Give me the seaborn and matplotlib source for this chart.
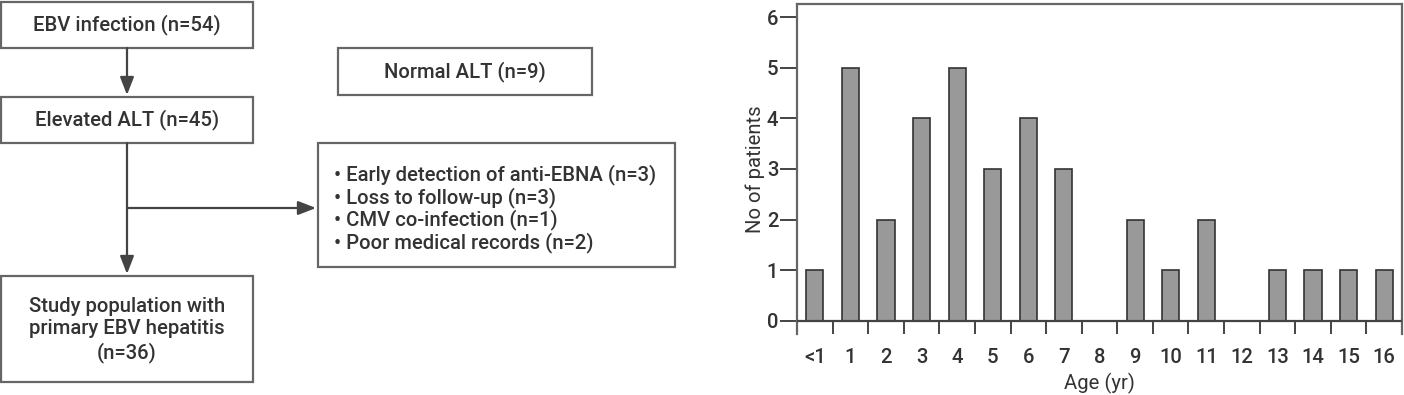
import numpy as np
import pandas as pd
import matplotlib
matplotlib.use("Agg")
import matplotlib.pyplot as plt
from matplotlib.patches import Rectangle
import seaborn as sns

# ── dados ────────────────────────────────────────────────────────────────────
AGES = ["<1", "1", "2", "3", "4", "5", "6", "7", "8", "9", "10",
        "11", "12", "13", "14", "15", "16"]
COUNTS = [1, 5, 2, 4, 5, 3, 4, 3, 0, 2, 1, 2, 0, 1, 1, 1, 1]
Y_TICKS = [0, 1, 2, 3, 4, 5, 6]

BOX_EBV = "EBV infection (n=54)"
BOX_ALT = "Elevated ALT (n=45)"
BOX_NORMAL = "Normal ALT (n=9)"
BOX_STUDY = "Study population with\nprimary EBV hepatitis\n(n=36)"
EXCLUDED = [
    "Early detection of anti-EBNA (n=3)",
    "Loss to follow-up (n=3)",
    "CMV co-infection (n=1)",
    "Poor medical records (n=2)",
]

sns.set_theme(style="white")
plt.rcParams["font.family"] = ["Roboto", "DejaVu Sans"]
plt.rcParams["font.weight"] = "medium"

W, H = 1404, 395
fig = plt.figure(figsize=(W / 100, H / 100), dpi=100)

EDGE = "#666666"
TXT = "#333333"
FS = 14.6

# ── fluxograma (coordenadas em pixels) ──────────────────────────────────────
fx = fig.add_axes([0, 0, 1, 1])
fx.set_xlim(0, W)
fx.set_ylim(H, 0)
fx.axis("off")


def box(x0, y0, x1, y1):
    fx.add_patch(Rectangle((x0, y0), x1 - x0, y1 - y0, fill=False,
                           edgecolor=EDGE, linewidth=1.6))


def arrow(x0, y0, x1, y1):
    fx.annotate("", xy=(x1, y1), xytext=(x0, y0),
                arrowprops=dict(arrowstyle="-|>,head_length=0.9,head_width=0.35",
                                color="#444444", lw=1.6, shrinkA=0, shrinkB=0))


box(1, 2, 253, 48)
fx.text(127, 25, BOX_EBV, ha="center", va="center", fontsize=FS, color=TXT)
arrow(127, 48, 127, 95)

box(1, 97, 253, 143)
fx.text(127, 120, BOX_ALT, ha="center", va="center", fontsize=FS, color=TXT)
arrow(127, 143, 127, 274)
arrow(127, 208, 316, 208)

box(1, 276, 253, 382)
fx.text(127, 330, BOX_STUDY, ha="center", va="center", fontsize=FS,
        color=TXT, linespacing=1.2)

box(338, 48, 592, 95)
fx.text(465, 72, BOX_NORMAL, ha="center", va="center", fontsize=FS, color=TXT)

box(318, 143, 675, 267)
for i, line in enumerate(EXCLUDED):
    fx.text(334, 175 + i * 22.5, "\u2022 " + line, ha="left", va="center",
            fontsize=FS, color=TXT)

# ── grafico de barras ────────────────────────────────────────────────────────
ax = fig.add_axes([797 / W, 1 - 334 / H, (1402 - 797) / W, (334 - 4) / H])
df = pd.DataFrame({"age": AGES, "n": COUNTS})
sns.barplot(data=df, x="age", y="n", ax=ax, color="#999999", saturation=1,
            width=0.48, edgecolor="#333333", linewidth=1.2)

ax.set_ylim(-0.26, 6.26)
ax.set_xlim(-0.5, len(AGES) - 0.5)
ax.set_yticks(Y_TICKS)
ax.axhline(0, color="#444444", lw=1.6, zorder=3)
ax.vlines(np.arange(len(AGES) + 1) - 0.5, -0.26, 0, color="#444444", lw=1.4)

for s in ["left", "top", "right"]:
    ax.spines[s].set_color(EDGE)
    ax.spines[s].set_linewidth(1.6)
ax.spines["bottom"].set_visible(False)

ax.tick_params(axis="y", left=True, length=12, width=1.4, color="#444444",
               labelsize=FS, labelcolor=TXT, pad=1.5)
ax.tick_params(axis="x", bottom=False, labelsize=FS, labelcolor=TXT, pad=4)
ax.set_xlabel("Age (yr)", fontsize=FS, color=TXT, labelpad=4)
ax.set_ylabel("No of patients", fontsize=FS, color=TXT, labelpad=1)

fig.savefig("out.png", dpi=100)
